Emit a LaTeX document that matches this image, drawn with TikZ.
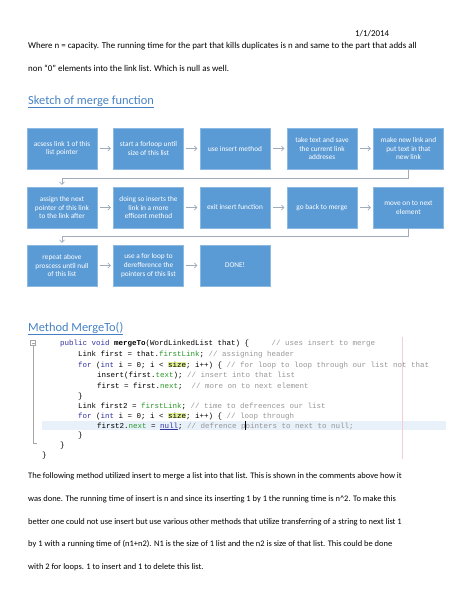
\documentclass[tikz,border=0pt]{standalone}
\usepackage{fontspec}
\setmainfont{Carlito}
\newfontfamily\codefont{Liberation Mono}
\usetikzlibrary{arrows.meta,positioning}

\definecolor{stepblue}{RGB}{91,155,213}
\definecolor{stepedge}{RGB}{140,185,225}
\definecolor{flowgray}{RGB}{160,172,188}
\definecolor{headblue}{RGB}{70,130,195}
\definecolor{kwblue}{RGB}{50,50,160}
\definecolor{fldgreen}{RGB}{40,150,40}
\definecolor{cmtgray}{RGB}{150,150,150}
\definecolor{linehl}{RGB}{232,240,250}
\definecolor{sizehl}{RGB}{225,240,150}
\definecolor{marginpink}{RGB}{245,205,210}

\newcommand{\kw}[1]{\textcolor{kwblue}{#1}}
\newcommand{\fld}[1]{\textcolor{fldgreen}{#1}}
\newcommand{\cmt}[1]{\textcolor{cmtgray}{#1}}
\newcommand{\szhl}[1]{{\setlength{\fboxsep}{0pt}\colorbox{sizehl}{#1}}}

\begin{document}
\begin{tikzpicture}[x=1pt, y=-1pt,
  % Text styles
  txt/.style={anchor=base west, inner sep=0pt, font=\fontsize{8.9}{10}\selectfont},
  para/.style={anchor=base west, inner sep=0pt, font=\fontsize{8.45}{10}\selectfont},
  head/.style={anchor=base west, inner sep=0pt, text=headblue, font=\fontsize{12.4}{14}\selectfont},
  code/.style={anchor=base west, inner sep=0pt, font=\codefont\fontsize{7.5}{9}\selectfont},
  % Box style
  stepbox/.style={draw=stepedge, fill=stepblue, text=white, minimum width=70pt, minimum height=41pt,
                  align=center, inner sep=1pt, font=\fontsize{7.3}{8.6}\selectfont},
  % Arrow styles
  flow/.style={-{Straight Barb[length=2.5pt,width=5pt]}, flowgray, line width=0.7pt, shorten <=2.5pt, shorten >=2.5pt},
  wrap/.style={-{Straight Barb[length=2.5pt,width=5pt]}, flowgray, line width=0.7pt, shorten >=2pt},
]
\useasboundingbox (0,0) rectangle (474,613);

% === Header text ===
\node[txt] (date) at (355,36) {1/1/2014};
\node[txt] (intro1) at (28,48) {Where n = capacity. The running time for the part that kills duplicates is n and same to the part that adds all};
\node[txt] (intro2) at (28,71) {non “0” elements into the link list. Which is null as well.};

\node[head] (sketch) at (28,104) {Sketch of merge function};
\draw[headblue, line width=0.6pt] ([yshift=-3pt]sketch.base west) -- ([yshift=-3pt]sketch.base east);

% === Row 1 ===
\node[stepbox] (a1) at (62,148.5)  {acsess link 1 of this\\list pointer};
\node[stepbox] (a2) at (148.5,148.5) {start a forloop until\\size of this list};
\node[stepbox] (a3) at (235,148.5) {use insert method};
\node[stepbox] (a4) at (322,148.5) {take text and save\\the current link\\addreses};
\node[stepbox] (a5) at (408.5,148.5) {make new link and\\put text in that\\new link};

% === Row 2 ===
\node[stepbox] (b1) at (62,207.5)  {assign the next\\pointer of this link\\to the link after};
\node[stepbox] (b2) at (148.5,207.5) {doing so inserts the\\link in a more\\efficent method};
\node[stepbox] (b3) at (235,207.5) {exit insert function};
\node[stepbox] (b4) at (322,207.5) {go back to merge};
\node[stepbox] (b5) at (408.5,207.5) {move on to next\\element};

% === Row 3 ===
\node[stepbox] (c1) at (62,265.5)  {repeat above\\proscess until null\\of this list};
\node[stepbox] (c2) at (148.5,265.5) {use a for loop to\\derefference the\\pointers of this list};
\node[stepbox] (c3) at (235,265.5) {DONE!};

% === Arrows ===
\draw[flow] (a1) -- (a2);
\draw[flow] (a2) -- (a3);
\draw[flow] (a3) -- (a4);
\draw[flow] (a4) -- (a5);
\draw[wrap] (a5.south) -- ++(0,9) -| (b1.north);

\draw[flow] (b1) -- (b2);
\draw[flow] (b2) -- (b3);
\draw[flow] (b3) -- (b4);
\draw[flow] (b4) -- (b5);
\draw[wrap] (b5.south) -- ++(0,8.5) -| (c1.north);

\draw[flow] (c1) -- (c2);
\draw[flow] (c2) -- (c3);

% === Method code ===
\node[head] (method) at (28,331) {Method MergeTo()};
\draw[headblue, line width=0.6pt] ([yshift=-3pt]method.base west) -- ([yshift=-3pt]method.base east);

\fill[linehl] (42,420.5) rectangle (446,430);
\draw[marginpink, line width=0.6pt] (402,337) -- (402,459);

\node[draw=gray!70, fill=white, minimum size=5pt, inner sep=0pt] (fold) at (33,343) {};
\draw[gray!70, line width=0.4pt] ([xshift=1.2pt]fold.west) -- ([xshift=-1.2pt]fold.east);
\coordinate (foldend) at (37,443);
\draw[gray!70, line width=0.8pt] (fold.south) |- (foldend);

\node[code] (l1)  at (60,345)  {\kw{public void} \textbf{mergeTo}(WordLinkedList that) \{\ \ \ \ \ \cmt{// uses insert to merge}};
\node[code] (l2)  at (78,356)  {Link first = that.\fld{firstLink}; \cmt{// assigning header}};
\node[code] (l3)  at (78,367)  {\kw{for} (\kw{int} i = 0; i < \szhl{size}; i++) \{ \cmt{// for loop to loop through our list not that}};
\node[code] (l4)  at (97,377)  {insert(first.\fld{text}); \cmt{// insert into that list}};
\node[code] (l5)  at (97,388)  {first = first.\fld{next};\ \ \cmt{// more on to next element}};
\node[code] (l6)  at (78,398)  {\}};
\node[code] (l7)  at (78,408)  {Link first2 = \fld{firstLink}; \cmt{// time to defreences our list}};
\node[code] (l8)  at (78,418)  {\kw{for} (\kw{int} i = 0; i < \szhl{size}; i++) \{ \cmt{// loop through}};
\node[code] (l9)  at (97,428)  {first2.\fld{next} = \kw{\underline{null}}; \cmt{// defrence pointers to next to null;}};
\node[code] (l10) at (78,437)  {\}};
\node[code] (l11) at (60,447)  {\}};
\node[code] (l12) at (42,457)  {\}};
\draw[line width=0.8pt] (245,420.5) -- (245,430);

% === Closing paragraph ===
\node[para] (p1) at (28,478) {The following method utilized insert to merge a list into that list. This is shown in the comments above how it};
\node[para] (p2) at (28,501) {was done. The running time of insert is n and since its inserting 1 by 1 the running time is n\^{}2. To make this};
\node[para] (p3) at (28,524) {better one could not use insert but use various other methods that utilize transferring of a string to next list 1};
\node[para] (p4) at (28,546) {by 1 with a running time of (n1+n2). N1 is the size of 1 list and the n2 is size of that list. This could be done};
\node[para] (p5) at (28,569) {with 2 for loops. 1 to insert and 1 to delete this list.};

\end{tikzpicture}
\end{document}
